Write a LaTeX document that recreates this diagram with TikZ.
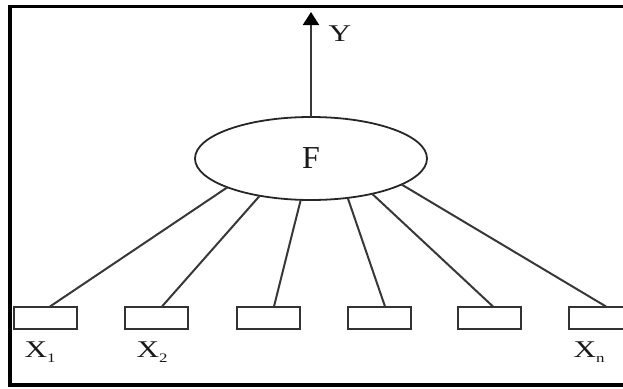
\documentclass[tikz,border=0pt]{standalone}
\usepackage{fontspec}
\setmainfont{Liberation Serif}
\usetikzlibrary{shapes.geometric,arrows.meta}
\newcommand{\subx}[1]{\raisebox{-0.2em}{\fontsize{13}{13}\selectfont #1}}
\begin{document}
\begin{tikzpicture}[x=1pt,y=-1pt,
  inbox/.style={draw=black!80, line width=2pt, minimum width=63pt, minimum height=22pt, inner sep=0pt, outer sep=0pt},
  conn/.style={draw=black!78, line width=2pt},
  lbl/.style={font=\fontsize{24}{24}\selectfont, text=black!90, xscale=1.3, inner sep=0pt}]
\useasboundingbox (0,0) rectangle (623,388);
\draw[line width=3.2pt] (640,6.5) -- (10,6.5) -- (10,385) -- (640,385);
% central node
\node[ellipse, draw=black!85, line width=1.8pt, minimum width=232pt, minimum height=83pt, inner sep=0pt, outer sep=0pt,
      font=\fontsize{32}{32}\selectfont, text=black!90] (F) at (311,158.5) {F};
\coordinate (top) at (311,12);
\draw[conn, arrows={-Triangle[length=13pt,width=16pt,fill=black,color=black]}] (F.north) -- (top);
\node[lbl] (Y) at (340,34) {Y};
% input boxes
\node[inbox] (b1) at (45,317.5) {};
\node[inbox] (b2) at (156,317.5) {};
\node[inbox] (b3) at (268,317.5) {};
\node[inbox] (b4) at (379,317.5) {};
\node[inbox] (b5) at (489,317.5) {};
\node[inbox] (b6) at (600,317.5) {};
% connectors
\draw[conn] (F.199.6) -- ([xshift=5pt]b1.north);
\draw[conn] (F.216) -- ([xshift=6pt]b2.north);
\draw[conn] (F.256.5) -- ([xshift=6pt]b3.north);
\draw[conn] (F.313.2) -- ([xshift=6pt]b4.north);
\draw[conn] (F.330.7) -- ([xshift=4pt]b5.north);
\draw[conn] (F.344.4) -- ([xshift=6pt]b6.north);
% labels
\node[lbl] (x1) at (40,352) {X\subx{1}};
\node[lbl] (x2) at (152,352) {X\subx{2}};
\node[lbl] (xn) at (589,352) {X\subx{n}};
\end{tikzpicture}
\end{document}
